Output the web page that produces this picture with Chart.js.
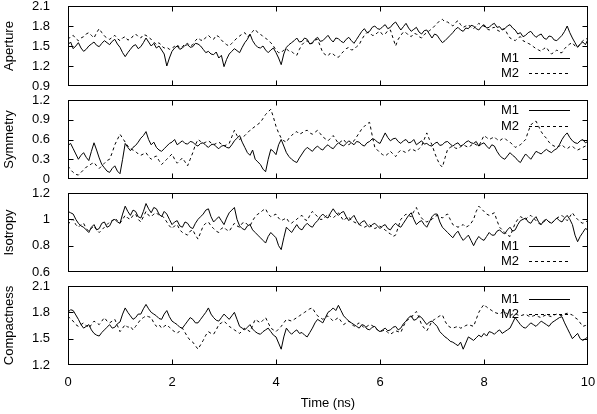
<!DOCTYPE html>
<html><head><meta charset="utf-8">
<script src="https://cdn.jsdelivr.net/npm/chart.js@4"></script>
<style>
html,body{margin:0;padding:0;background:#fff;}
#wrap{position:relative;width:597px;height:414px;overflow:hidden;}
canvas{position:absolute;left:0;top:0;}
</style></head><body>
<div id="wrap">
<canvas id="c1" width="597" height="414"></canvas>
<canvas id="c2" width="597" height="414"></canvas>
<canvas id="c3" width="597" height="414"></canvas>
<canvas id="c4" width="597" height="414"></canvas>
</div>
<script>
// ---- data (time in ns, every 0.05 ns) ----
const time = [0,0.05,0.1,0.15,0.2,0.25,0.3,0.35,0.4,0.45,0.5,0.55,0.6,0.65,0.7,0.75,0.8,0.85,0.9,0.95,
1,1.05,1.1,1.15,1.2,1.25,1.3,1.35,1.4,1.45,1.5,1.55,1.6,1.65,1.7,1.75,1.8,1.85,1.9,1.95,
2,2.05,2.1,2.15,2.2,2.25,2.3,2.35,2.4,2.45,2.5,2.55,2.6,2.65,2.7,2.75,2.8,2.85,2.9,2.95,
3,3.05,3.1,3.15,3.2,3.25,3.3,3.35,3.4,3.45,3.5,3.55,3.6,3.65,3.7,3.75,3.8,3.85,3.9,3.95,
4,4.05,4.1,4.15,4.2,4.25,4.3,4.35,4.4,4.45,4.5,4.55,4.6,4.65,4.7,4.75,4.8,4.85,4.9,4.95,
5,5.05,5.1,5.15,5.2,5.25,5.3,5.35,5.4,5.45,5.5,5.55,5.6,5.65,5.7,5.75,5.8,5.85,5.9,5.95,
6,6.05,6.1,6.15,6.2,6.25,6.3,6.35,6.4,6.45,6.5,6.55,6.6,6.65,6.7,6.75,6.8,6.85,6.9,6.95,
7,7.05,7.1,7.15,7.2,7.25,7.3,7.35,7.4,7.45,7.5,7.55,7.6,7.65,7.7,7.75,7.8,7.85,7.9,7.95,
8,8.05,8.1,8.15,8.2,8.25,8.3,8.35,8.4,8.45,8.5,8.55,8.6,8.65,8.7,8.75,8.8,8.85,8.9,8.95,
9,9.05,9.1,9.15,9.2,9.25,9.3,9.35,9.4,9.45,9.5,9.55,9.6,9.65,9.7,9.75,9.8,9.85,9.9,9.95,
10];

const apertureM1 = [1.52,1.56,1.46,1.50,1.55,1.47,1.42,1.45,1.50,1.53,1.56,1.51,1.49,1.54,1.58,1.55,1.52,1.57,1.60,1.53,
1.48,1.40,1.34,1.40,1.45,1.50,1.52,1.46,1.49,1.55,1.62,1.56,1.50,1.54,1.47,1.50,1.44,1.38,1.20,1.32,
1.42,1.47,1.50,1.45,1.47,1.51,1.52,1.48,1.49,1.54,1.53,1.50,1.45,1.40,1.42,1.38,1.37,1.41,1.32,1.36,
1.19,1.30,1.38,1.42,1.46,1.43,1.40,1.48,1.55,1.60,1.68,1.58,1.52,1.48,1.47,1.50,1.44,1.40,1.44,1.47,
1.40,1.32,1.22,1.38,1.48,1.52,1.55,1.58,1.62,1.56,1.57,1.62,1.60,1.53,1.55,1.60,1.63,1.57,1.58,1.62,
1.66,1.60,1.56,1.62,1.61,1.57,1.55,1.60,1.63,1.58,1.54,1.60,1.66,1.72,1.76,1.70,1.72,1.78,1.80,1.76,
1.75,1.79,1.82,1.76,1.78,1.83,1.86,1.80,1.74,1.79,1.84,1.77,1.72,1.75,1.78,1.71,1.68,1.73,1.74,1.68,
1.62,1.68,1.66,1.60,1.55,1.58,1.62,1.66,1.70,1.75,1.78,1.74,1.72,1.77,1.76,1.81,1.80,1.76,1.74,1.79,
1.82,1.77,1.78,1.82,1.84,1.78,1.79,1.74,1.76,1.80,1.82,1.77,1.74,1.68,1.70,1.64,1.66,1.70,1.72,1.67,
1.63,1.66,1.68,1.62,1.60,1.65,1.64,1.59,1.58,1.62,1.66,1.72,1.80,1.70,1.62,1.55,1.48,1.53,1.56,1.52,
1.60];
const apertureM2 = [1.60,1.64,1.66,1.61,1.58,1.62,1.64,1.68,1.70,1.66,1.62,1.70,1.76,1.70,1.65,1.62,1.60,1.63,1.66,1.61,
1.58,1.62,1.64,1.59,1.60,1.65,1.68,1.64,1.62,1.67,1.66,1.63,1.60,1.56,1.52,1.55,1.50,1.47,1.48,1.45,
1.46,1.50,1.52,1.47,1.49,1.53,1.54,1.50,1.52,1.58,1.62,1.59,1.58,1.63,1.66,1.62,1.60,1.66,1.64,1.59,
1.55,1.52,1.50,1.54,1.58,1.62,1.65,1.68,1.70,1.64,1.66,1.72,1.75,1.70,1.68,1.64,1.62,1.58,1.55,1.50,
1.44,1.40,1.40,1.44,1.46,1.42,1.42,1.38,1.36,1.45,1.52,1.56,1.58,1.53,1.54,1.59,1.60,1.50,1.40,1.37,
1.35,1.40,1.38,1.34,1.33,1.38,1.42,1.46,1.48,1.44,1.45,1.49,1.52,1.60,1.66,1.70,1.70,1.66,1.66,1.70,
1.72,1.67,1.68,1.73,1.74,1.62,1.50,1.60,1.66,1.71,1.70,1.66,1.64,1.69,1.68,1.64,1.62,1.67,1.70,1.73,
1.76,1.80,1.84,1.88,1.90,1.86,1.86,1.83,1.80,1.85,1.88,1.82,1.78,1.80,1.82,1.78,1.76,1.80,1.84,1.81,
1.80,1.76,1.74,1.77,1.78,1.74,1.72,1.75,1.76,1.68,1.62,1.60,1.58,1.62,1.64,1.58,1.56,1.54,1.52,1.49,
1.46,1.44,1.42,1.46,1.48,1.42,1.38,1.41,1.44,1.40,1.40,1.46,1.50,1.53,1.55,1.50,1.48,1.53,1.58,1.60,
1.62];

const symmetryM1 = [0.51,0.54,0.46,0.38,0.30,0.36,0.40,0.33,0.28,0.42,0.55,0.44,0.32,0.22,0.17,0.12,0.10,0.16,0.20,0.12,
0.08,0.30,0.54,0.48,0.43,0.48,0.51,0.56,0.62,0.66,0.72,0.60,0.52,0.56,0.48,0.44,0.42,0.46,0.50,0.54,
0.56,0.60,0.52,0.55,0.58,0.54,0.53,0.57,0.56,0.52,0.50,0.54,0.55,0.51,0.48,0.52,0.53,0.49,0.46,0.50,
0.51,0.48,0.47,0.52,0.58,0.62,0.66,0.56,0.48,0.40,0.36,0.44,0.30,0.26,0.22,0.15,0.11,0.30,0.45,0.42,
0.37,0.52,0.60,0.50,0.40,0.34,0.30,0.27,0.25,0.32,0.38,0.44,0.48,0.45,0.42,0.47,0.50,0.46,0.44,0.49,
0.52,0.48,0.46,0.51,0.55,0.52,0.50,0.54,0.58,0.55,0.52,0.57,0.56,0.52,0.50,0.55,0.57,0.61,0.60,0.56,
0.54,0.62,0.70,0.63,0.58,0.61,0.62,0.57,0.54,0.58,0.60,0.55,0.56,0.60,0.52,0.55,0.58,0.53,0.54,0.51,
0.50,0.54,0.56,0.51,0.52,0.56,0.57,0.53,0.50,0.53,0.55,0.50,0.52,0.56,0.58,0.55,0.54,0.57,0.50,0.53,
0.55,0.50,0.46,0.52,0.50,0.42,0.36,0.32,0.30,0.35,0.40,0.36,0.33,0.28,0.25,0.32,0.38,0.34,0.30,0.36,
0.42,0.40,0.38,0.42,0.45,0.42,0.40,0.44,0.46,0.52,0.60,0.66,0.70,0.63,0.58,0.55,0.54,0.58,0.60,0.55,
0.57];
const symmetryM2 = [0.20,0.14,0.10,0.07,0.06,0.10,0.14,0.18,0.20,0.23,0.25,0.20,0.16,0.20,0.24,0.28,0.30,0.40,0.52,0.60,
0.68,0.62,0.56,0.50,0.46,0.44,0.42,0.38,0.36,0.38,0.40,0.34,0.30,0.33,0.35,0.28,0.22,0.26,0.30,0.34,
0.38,0.30,0.24,0.28,0.32,0.26,0.20,0.30,0.40,0.52,0.60,0.57,0.54,0.56,0.58,0.55,0.52,0.54,0.56,0.53,
0.50,0.52,0.54,0.64,0.74,0.66,0.60,0.63,0.66,0.70,0.74,0.77,0.80,0.83,0.86,0.92,0.98,1.02,1.06,0.94,
0.80,0.70,0.62,0.58,0.56,0.62,0.66,0.70,0.72,0.68,0.70,0.73,0.74,0.70,0.68,0.71,0.74,0.69,0.64,0.61,
0.58,0.62,0.66,0.60,0.54,0.57,0.60,0.55,0.52,0.55,0.58,0.64,0.70,0.76,0.80,0.84,0.86,0.66,0.48,0.44,
0.40,0.37,0.35,0.38,0.42,0.38,0.34,0.40,0.44,0.42,0.40,0.43,0.46,0.44,0.42,0.46,0.50,0.60,0.70,0.60,
0.52,0.40,0.30,0.22,0.18,0.32,0.45,0.48,0.50,0.47,0.46,0.49,0.52,0.50,0.48,0.51,0.54,0.52,0.50,0.58,
0.66,0.63,0.60,0.62,0.64,0.60,0.58,0.61,0.62,0.58,0.56,0.52,0.48,0.50,0.52,0.56,0.60,0.72,0.82,0.86,
0.88,0.80,0.72,0.66,0.62,0.56,0.52,0.50,0.48,0.50,0.52,0.48,0.46,0.49,0.50,0.46,0.44,0.46,0.48,0.50,
0.52];

const isotropyM1 = [1.06,1.05,1.04,1.00,0.97,0.95,0.94,0.92,0.90,0.94,0.96,0.92,0.93,0.97,0.98,0.94,0.95,0.99,1.00,0.98,
0.97,1.04,1.10,1.06,1.03,1.07,1.06,1.02,1.01,1.06,1.12,1.08,1.05,1.09,1.08,1.04,1.02,1.06,1.04,1.00,
0.96,0.98,0.99,0.95,0.94,0.98,0.97,0.94,0.93,0.97,1.00,1.02,1.04,1.07,1.08,1.02,0.98,1.00,1.02,0.99,
0.96,1.01,1.05,1.07,1.09,1.00,0.95,0.93,0.92,0.95,0.96,0.92,0.90,0.88,0.86,0.84,0.82,0.87,0.90,0.88,
0.86,0.80,0.77,0.86,0.94,0.92,0.90,0.93,0.96,0.93,0.92,0.95,0.97,0.95,0.94,0.97,0.99,1.02,1.04,1.02,
1.01,1.05,1.08,1.05,1.03,1.05,1.06,1.02,0.99,1.01,1.03,0.99,0.96,0.98,0.99,0.96,0.94,0.96,0.97,0.95,
0.93,0.95,0.96,0.93,0.92,0.95,0.97,0.95,0.94,0.97,1.00,1.03,1.05,1.00,0.96,0.98,0.99,0.96,0.94,0.98,
1.02,1.04,1.04,0.98,0.94,0.92,0.90,0.88,0.86,0.89,0.91,0.87,0.84,0.86,0.88,0.84,0.80,0.84,0.87,0.85,
0.84,0.87,0.90,0.88,0.88,0.91,0.92,0.90,0.89,0.92,0.94,0.91,0.92,0.96,0.99,1.00,1.01,0.98,0.97,1.00,
1.02,0.98,0.96,0.99,1.00,0.98,0.97,0.99,1.01,0.99,0.98,1.01,1.03,1.00,0.96,0.88,0.83,0.87,0.90,0.93,
0.92];
const isotropyM2 = [0.96,0.99,1.00,0.96,0.94,0.96,0.97,0.93,0.91,0.93,0.95,0.92,0.90,0.92,0.94,0.96,0.98,0.99,1.01,0.99,
0.97,1.00,1.03,1.01,1.00,1.03,1.04,1.00,0.98,1.02,1.06,1.03,1.02,1.04,1.05,1.03,1.03,1.01,0.98,0.95,
0.93,0.95,0.96,0.92,0.90,0.89,0.88,0.91,0.92,0.88,0.85,0.90,0.95,0.97,0.98,0.95,0.93,0.91,0.90,0.93,
0.94,0.92,0.91,0.94,0.97,0.95,0.94,0.97,0.98,0.96,0.95,0.99,1.02,1.04,1.05,1.07,1.08,1.04,1.02,1.03,
1.04,1.01,0.99,1.00,1.01,0.98,0.97,0.99,1.00,1.02,1.03,1.00,0.99,1.03,1.06,1.04,1.02,1.00,1.00,1.02,
1.04,1.02,1.01,1.03,1.05,1.02,0.99,1.01,1.02,0.99,0.98,0.97,0.96,0.95,0.94,0.95,0.96,0.94,0.93,0.94,
0.95,0.93,0.92,0.90,0.89,0.87,0.88,0.94,1.00,1.02,1.04,1.03,1.02,1.06,1.09,1.04,1.01,0.99,0.98,0.99,
1.00,1.02,1.03,1.02,1.01,1.03,1.04,1.00,0.96,0.95,0.94,0.95,0.96,0.94,0.95,0.97,1.00,1.06,1.10,1.08,
1.06,1.04,1.03,1.04,1.05,0.99,0.94,0.92,0.90,0.88,0.87,0.92,0.97,1.00,1.02,1.01,1.00,1.02,1.03,1.01,
0.99,0.97,0.96,0.98,1.00,0.98,0.97,0.99,1.01,1.02,1.03,1.01,0.99,1.02,1.05,1.02,1.00,0.98,0.97,0.98,
0.99];

const compactnessM1 = [1.80,1.83,1.82,1.77,1.72,1.66,1.62,1.64,1.66,1.60,1.56,1.54,1.53,1.57,1.60,1.63,1.66,1.62,1.63,1.67,
1.69,1.78,1.85,1.80,1.76,1.72,1.74,1.78,1.78,1.84,1.89,1.84,1.80,1.78,1.76,1.73,1.72,1.78,1.82,1.75,
1.70,1.68,1.66,1.63,1.62,1.66,1.70,1.74,1.72,1.68,1.68,1.72,1.76,1.80,1.85,1.78,1.74,1.71,1.70,1.74,
1.78,1.75,1.72,1.76,1.80,1.72,1.64,1.62,1.60,1.63,1.66,1.61,1.58,1.56,1.55,1.58,1.60,1.62,1.58,1.54,
1.52,1.45,1.38,1.52,1.62,1.58,1.55,1.58,1.60,1.56,1.57,1.54,1.52,1.57,1.62,1.68,1.72,1.70,1.68,1.74,
1.80,1.82,1.85,1.82,1.88,1.82,1.76,1.73,1.70,1.68,1.66,1.64,1.62,1.66,1.65,1.61,1.60,1.63,1.64,1.60,
1.58,1.60,1.62,1.59,1.60,1.63,1.64,1.60,1.62,1.67,1.70,1.74,1.76,1.71,1.72,1.76,1.74,1.70,1.66,1.69,
1.70,1.67,1.64,1.58,1.55,1.52,1.50,1.47,1.46,1.44,1.42,1.46,1.38,1.45,1.52,1.50,1.48,1.51,1.54,1.52,
1.56,1.53,1.58,1.57,1.55,1.58,1.60,1.56,1.58,1.60,1.62,1.68,1.74,1.70,1.66,1.63,1.62,1.65,1.68,1.66,
1.64,1.67,1.70,1.68,1.66,1.64,1.68,1.70,1.72,1.74,1.75,1.68,1.62,1.56,1.50,1.53,1.56,1.50,1.48,1.50,
1.52];
const compactnessM2 = [1.76,1.72,1.70,1.66,1.64,1.66,1.68,1.65,1.62,1.66,1.70,1.68,1.66,1.70,1.74,1.70,1.68,1.70,1.72,1.65,
1.58,1.62,1.66,1.63,1.64,1.60,1.64,1.68,1.72,1.74,1.76,1.75,1.74,1.68,1.64,1.66,1.62,1.64,1.66,1.63,
1.60,1.58,1.56,1.59,1.62,1.57,1.52,1.48,1.46,1.42,1.38,1.43,1.48,1.54,1.58,1.56,1.55,1.60,1.66,1.68,
1.70,1.67,1.64,1.62,1.60,1.58,1.56,1.59,1.62,1.60,1.58,1.65,1.72,1.70,1.68,1.71,1.74,1.68,1.62,1.60,
1.58,1.61,1.64,1.68,1.72,1.71,1.70,1.72,1.74,1.76,1.78,1.80,1.82,1.84,1.85,1.80,1.76,1.74,1.72,1.74,
1.76,1.73,1.70,1.72,1.74,1.70,1.66,1.68,1.70,1.67,1.64,1.66,1.68,1.65,1.62,1.64,1.66,1.65,1.63,1.60,
1.58,1.59,1.60,1.57,1.55,1.57,1.59,1.58,1.57,1.64,1.70,1.72,1.74,1.78,1.81,1.74,1.66,1.62,1.59,1.64,
1.70,1.72,1.74,1.76,1.77,1.70,1.65,1.63,1.62,1.63,1.64,1.62,1.63,1.65,1.66,1.65,1.64,1.72,1.80,1.85,
1.89,1.86,1.84,1.82,1.80,1.79,1.78,1.80,1.81,1.78,1.76,1.78,1.79,1.77,1.76,1.77,1.78,1.76,1.75,1.76,
1.77,1.75,1.74,1.76,1.77,1.76,1.75,1.77,1.78,1.77,1.76,1.78,1.79,1.78,1.77,1.74,1.72,1.68,1.64,1.65,
1.66];

// ---- tick values ----
const xTicks = [0,2,4,6,8,10];
const apertureTicks = [0.9,1.2,1.5,1.8,2.1];
const symmetryTicks = [0,0.3,0.6,0.9,1.2];
const isotropyTicks = [0.6,0.8,1,1.2];
const compactnessTicks = [1.2,1.5,1.8,2.1];

const FONT = {family:'"Liberation Sans", Arial, Helvetica, sans-serif', size:13};

const framePlugin = {
  id:'frame',
  afterDraw(chart, args, opts){
    const {ctx, chartArea:a} = chart;
    const x = chart.scales.x, y = chart.scales.y;
    ctx.save();
    ctx.strokeStyle='#000'; ctx.lineWidth=1; ctx.setLineDash([]);
    const L=Math.round(a.left)+0.5, R=Math.round(a.right)-0.5, T=Math.round(a.top)+0.5, B=Math.round(a.bottom)-0.5;
    ctx.strokeRect(L,T,R-L,B-T);
    const tl=5;
    ctx.beginPath();
    x.ticks.forEach(t=>{const px=Math.round(x.getPixelForValue(t.value))+0.5; if(px<=L+1||px>=R-1)return; ctx.moveTo(px,B);ctx.lineTo(px,B-tl);ctx.moveTo(px,T);ctx.lineTo(px,T+tl);});
    y.ticks.forEach(t=>{const py=Math.round(y.getPixelForValue(t.value))+0.5; if(py<=T+1||py>=B-1)return; ctx.moveTo(L,py);ctx.lineTo(L+tl,py);ctx.moveTo(R,py);ctx.lineTo(R-tl,py);});
    ctx.stroke();
    ctx.font = FONT.size+'px '+FONT.family; ctx.fillStyle='#000'; ctx.textBaseline='middle'; ctx.textAlign='left';
    chart.data.datasets.forEach((ds,i)=>{
      const yy=opts.ys[i];
      ctx.fillText(ds.label, 501, yy);
      ctx.setLineDash(ds.borderDash||[]);
      ctx.beginPath(); ctx.moveTo(529,Math.round(yy)+0.5); ctx.lineTo(570,Math.round(yy)+0.5); ctx.stroke();
    });
    ctx.restore();
  }
};

function noPad(s){ s.paddingTop=0; s.paddingBottom=0; s.paddingLeft=0; s.paddingRight=0; }

function makeChart(id, m1, m2, yTicks, yTitle, top, bottom, legendYs, isBottom){
  const xh = isBottom ? 414-bottom : 0;
  new Chart(document.getElementById(id), {
    type:'line',
    data:{labels:time, datasets:[
      {label:'M1', data:m1, borderColor:'#000', borderWidth:1, pointRadius:0, tension:0, fill:false},
      {label:'M2', data:m2, borderColor:'#000', borderWidth:1, borderDash:[3,3], pointRadius:0, tension:0, fill:false}
    ]},
    options:{
      responsive:false, animation:false, events:[],
      layout:{padding:{top:top, bottom:isBottom?0:414-bottom, left:0, right:9}},
      plugins:{legend:{display:false}, tooltip:{enabled:false}, frame:{ys:legendYs}},
      scales:{
        x:{type:'linear', min:0, max:10,
          afterBuildTicks:s=>{s.ticks=xTicks.map(v=>({value:v}));},
          afterFit:s=>{s.height=xh; noPad(s);},
          grid:{display:false}, border:{display:false},
          ticks:{display:isBottom, font:FONT, color:'#000', padding:2, maxRotation:0, autoSkip:false},
          title:{display:isBottom, text:'Time (ns)', font:FONT, color:'#000', padding:{top:4,bottom:3}}
        },
        y:{type:'linear', min:yTicks[0], max:yTicks[yTicks.length-1],
          afterBuildTicks:s=>{s.ticks=yTicks.map(v=>({value:v}));},
          afterFit:s=>{s.width=68; noPad(s);},
          grid:{display:false}, border:{display:false},
          ticks:{font:FONT, color:'#000', padding:10, autoSkip:false, callback:v=>String(+(+v).toFixed(2))},
          title:{display:true, text:yTitle, font:FONT, color:'#000', padding:{top:2,bottom:0}}
        }
      }
    },
    plugins:[framePlugin]
  });
}

makeChart('c1', apertureM1, apertureM2, apertureTicks, 'Aperture', 6, 86, [58,73], false);
makeChart('c2', symmetryM1, symmetryM2, symmetryTicks, 'Symmetry', 100, 179, [110,126], false);
makeChart('c3', isotropyM1, isotropyM2, isotropyTicks, 'Isotropy', 193, 272, [246,261], false);
makeChart('c4', compactnessM1, compactnessM2, compactnessTicks, 'Compactness', 286, 365, [299,314], true);
</script>
</body></html>
